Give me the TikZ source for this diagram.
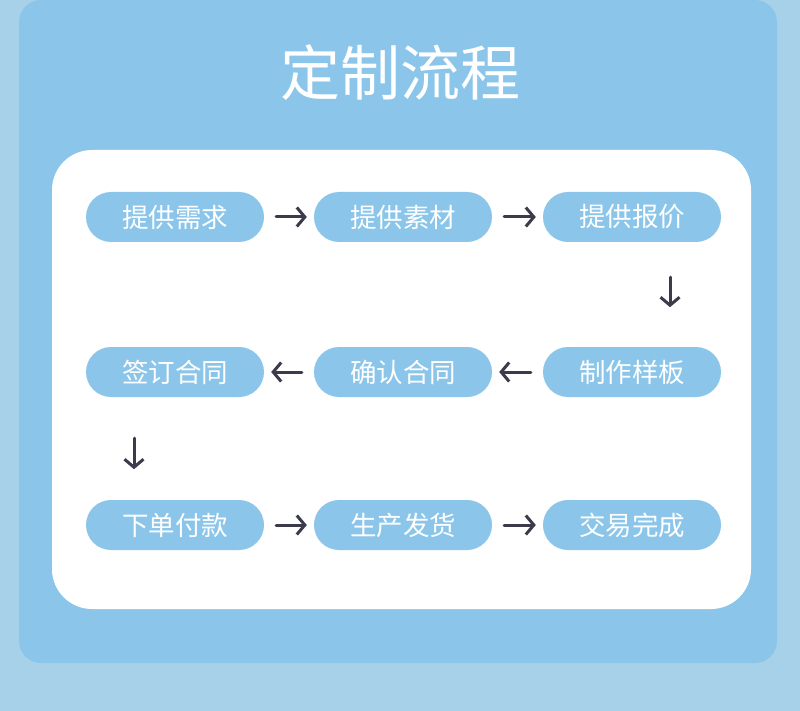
\documentclass[tikz,border=0pt]{standalone}
\usepackage{fontspec}
\setmainfont{Noto Sans CJK SC}
\usetikzlibrary{arrows.meta,calc}
\definecolor{bgblue}{HTML}{A6D1E9}
\definecolor{panelblue}{HTML}{8BC6EA}
\definecolor{pillblue}{HTML}{8BC6EA}
\definecolor{arrowgray}{HTML}{3B3B4B}
\tikzset{
  pill/.style={fill=pillblue, rounded corners=25pt, minimum width=178pt, minimum height=50pt,
    inner sep=0pt, text=white, font=\fontsize{26.5}{26.5}\selectfont},
  flow/.style={draw=arrowgray, line width=3pt, line cap=round,
    -{Straight Barb[length=8pt,width=19pt,line width=3pt]}},
}
\begin{document}
\begin{tikzpicture}[x=1pt,y=-1pt]
\useasboundingbox (0,0) rectangle (800,711);
\fill[bgblue] (0,0) rectangle (800,711);
\fill[panelblue, rounded corners=22pt] (19,0) rectangle (777,663);
\fill[white, rounded corners=40pt] (52,150) rectangle (751,609);
\node[text=white, font=\fontsize{60}{60}\selectfont] (title) at (400,73) {定制流程};
% row 1
\node[pill] (a1) at (175,217) {提供需求};
\node[pill] (a2) at (403,217) {提供素材};
\node[pill] (a3) at (632,217) {提供报价};
% row 2
\node[pill] (b3) at (632,372) {制作样板};
\node[pill] (b2) at (403,372) {确认合同};
\node[pill] (b1) at (175,372) {签订合同};
% row 3
\node[pill] (c1) at (175,525) {下单付款};
\node[pill] (c2) at (403,525) {生产发货};
\node[pill] (c3) at (632,525) {交易完成};
% arrows
\draw[flow, shorten <=12pt, shorten >=7pt] (a1.east) -- (a2.west);
\draw[flow, shorten <=12pt, shorten >=7pt] (a2.east) -- (a3.west);
\coordinate (d1s) at ($(a3.south)+(38,35)$);
\coordinate (d1e) at ($(a3.south)+(38,65)$);
\draw[flow] (d1s) -- (d1e);
\draw[flow, shorten <=12pt, shorten >=7pt] (b3.west) -- (b2.east);
\draw[flow, shorten <=12pt, shorten >=7pt] (b2.west) -- (b1.east);
\coordinate (d2s) at ($(b1.south)+(-41,41)$);
\coordinate (d2e) at ($(b1.south)+(-41,72)$);
\draw[flow] (d2s) -- (d2e);
\draw[flow, shorten <=12pt, shorten >=7pt] (c1.east) -- (c2.west);
\draw[flow, shorten <=12pt, shorten >=7pt] (c2.east) -- (c3.west);
\end{tikzpicture}
\end{document}
